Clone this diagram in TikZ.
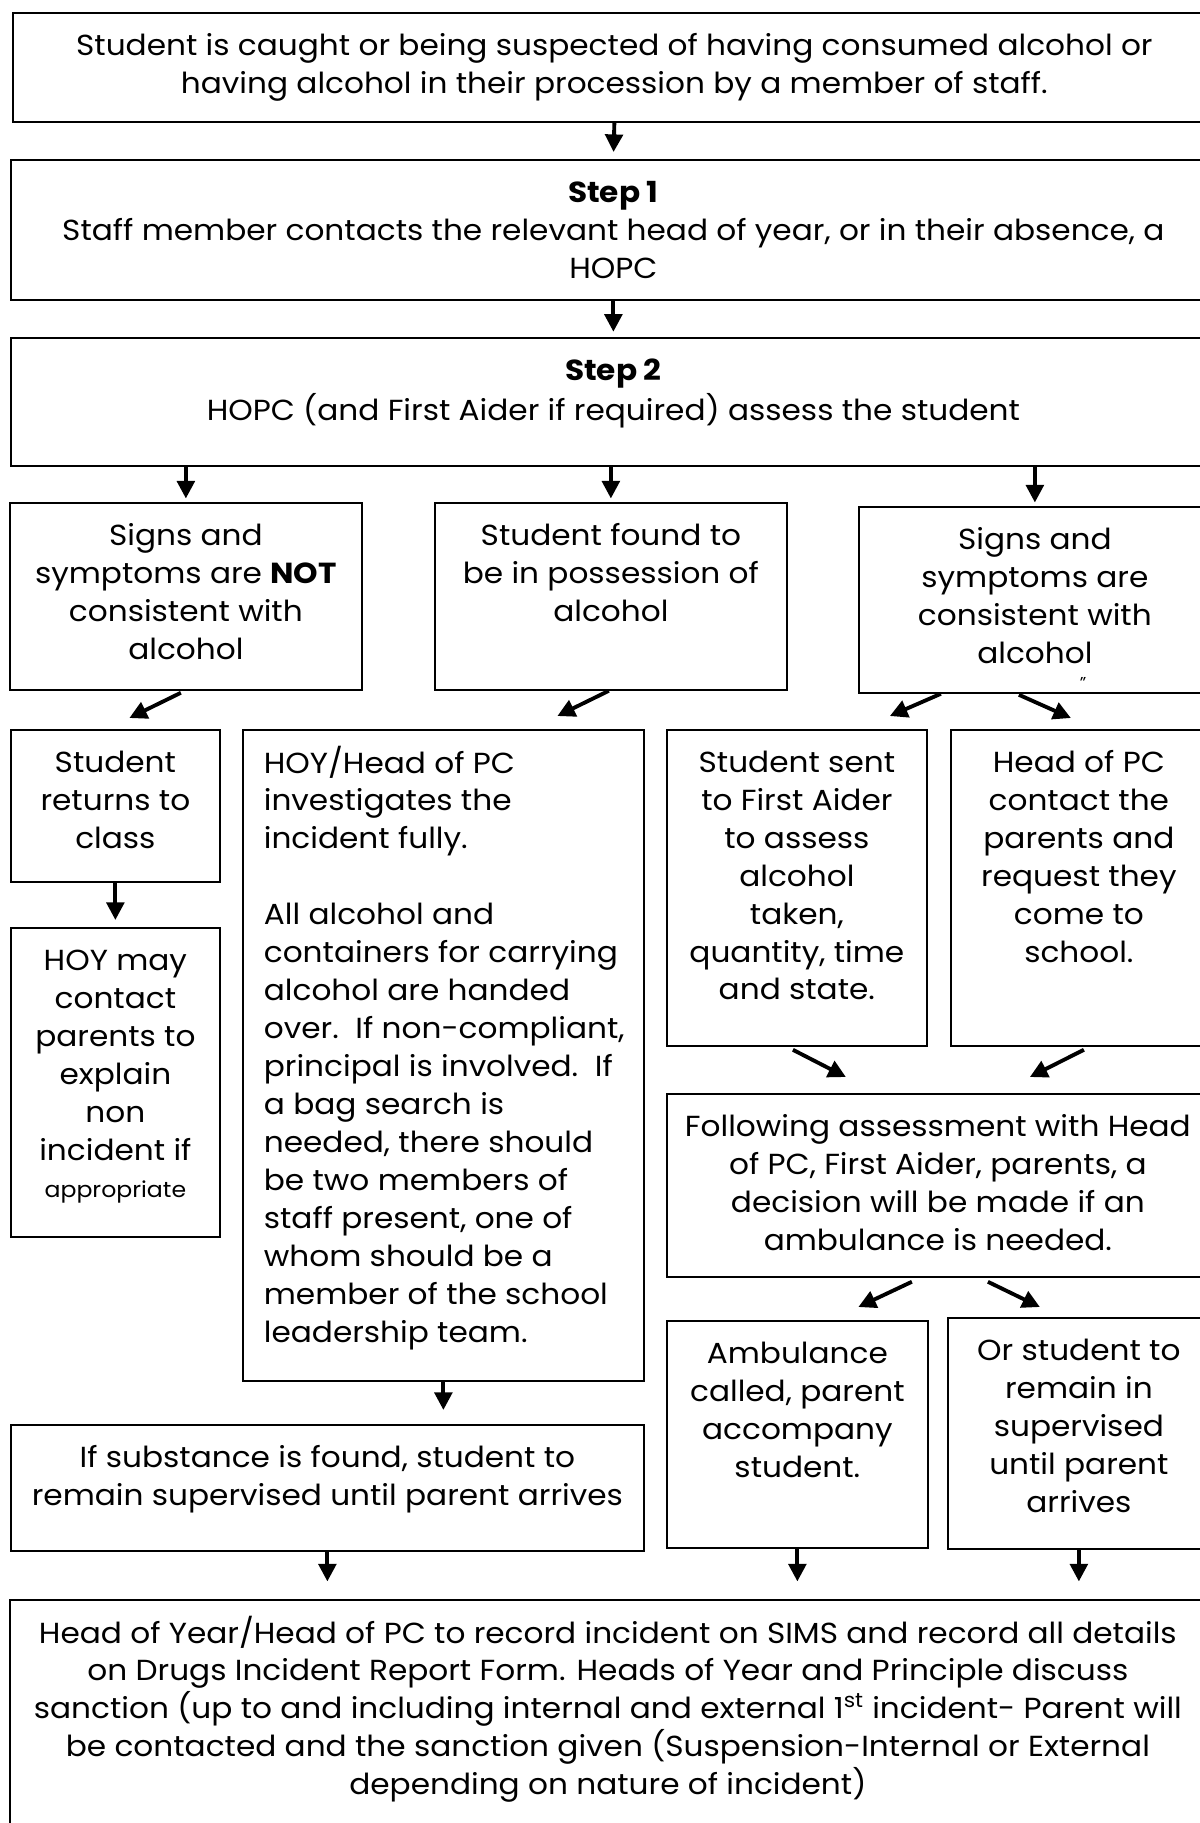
\documentclass[tikz,border=0pt]{standalone}
\usepackage{fontspec}
\setmainfont{Poppins}[FakeStretch=1.075]
\usetikzlibrary{calc, positioning}
\usetikzlibrary{arrows.meta}
\newlength\px
\setlength\px{0.02cm}
\newcommand{\stagetext}[4][\centering]{%
    \parbox[t][#3\px][t]{#2\px}{#1\vspace{9pt}\strut #4}}
\tikzset{
    stage/.style = {
        draw, line width=1pt, anchor=north west, inner sep=0pt,
        font=\fontsize{16.5}{21.6}\selectfont
    },
    flow/.style = {
        -{Triangle[width=10pt,length=10pt]}, line width=2.2pt
    },
}

\begin{document}
\begin{tikzpicture}[x=0.02cm, y=-0.02cm]
        \useasboundingbox (0,0) rectangle (1200,1823);

        % Place the blocks
        \node[stage] (caught) at (12,12) {\stagetext{1203}{109}{Student is caught or being suspected of having consumed alcohol or\\having alcohol in their procession by a member of staff.}};
        \node[stage] (stepone) at (10,159) {\stagetext{1205}{140}{\textbf{Step 1}\\Staff member contacts the relevant head of year, or in their absence, a\\HOPC}};
        \node[stage] (steptwo) at (10,337) {\stagetext{1205}{128}{\textbf{Step 2}\\HOPC (and First Aider if required) assess the student}};

        \node[stage] (notconsistent) at (9,502) {\stagetext{352}{187}{Signs and\\symptoms are \textbf{NOT}\\consistent with\\alcohol}};
        \node[stage] (possession) at (434,502) {\stagetext{352}{187}{Student found to\\be in possession of\\alcohol}};
        \node[stage] (consistent) at (858,506) {\stagetext{352}{186}{Signs and\\symptoms are\\consistent with\\alcohol}};
        \node[font=\small, inner sep=0pt] (stray) at (1083,683) {''};

        \node[stage] (returns) at (10,729) {\stagetext{209}{152}{Student\\returns to\\class}};
        \node[stage] (investigate) at (242,729) {\stagetext[\raggedright\leftskip=21\px]{401}{651}{HOY/Head of PC\\investigates the\\incident fully.\\[\baselineskip]All alcohol and\\containers for carrying\\alcohol are handed\\over.\ \ If non-compliant,\\principal is involved.\ \ If\\a bag search is\\needed, there should\\be two members of\\staff present, one of\\whom should be a\\member of the school\\leadership team.}};
        \node[stage] (firstaider) at (666,729) {\stagetext{260}{316}{Student sent\\to First Aider\\to assess\\alcohol\\taken,\\quantity, time\\and state.}};
        \node[stage] (contactparents) at (950,729) {\stagetext{256}{316}{Head of PC\\contact the\\parents and\\request they\\come to\\school.}};

        \node[stage] (maycontact) at (10,927) {\stagetext{209}{309}{HOY may\\contact\\parents to\\explain\\non\\incident if\\{\fontsize{12.5}{21.6}\selectfont appropriate}}};
        \node[stage] (decision) at (666,1093) {\stagetext{542}{183}{Following assessment with Head\\of PC, First Aider, parents, a\\decision will be made if an\\ambulance is needed.}};
        \node[stage] (ambulance) at (666,1320) {\stagetext{261}{227}{Ambulance\\called, parent\\accompany\\student.}};
        \node[stage] (supervised) at (947,1317) {\stagetext{262}{231}{Or student to\\remain in\\supervised\\until parent\\arrives}};
        \node[stage] (substance) at (10,1424) {\stagetext{633}{126}{If substance is found, student to\\remain supervised until parent arrives}};

        \node[stage] (record) at (9,1599) {\stagetext{1196}{260}{Head of Year/Head of PC to record incident on SIMS and record all details\\on Drugs Incident Report Form. Heads of Year and Principle discuss\\sanction (up to and including internal and external 1\textsuperscript{st} incident- Parent will\\be contacted and the sanction given (Suspension-Internal or External\\depending on nature of incident)}};

        % Draw connections
        \draw[flow, shorten >=4pt] (caught.south) -- (stepone.north);
        \draw[flow, shorten >=3pt] (stepone.south) -- (steptwo.north);
        \foreach \n in {notconsistent, possession, consistent}{
            \draw[flow, shorten >=2pt] (steptwo.south -| \n.north) -- (\n.north);
        }
        \draw[flow] ($(notconsistent.south)+(-5,2)$) -- ($(returns.north)+(14,-11)$);
        \draw[flow] ($(possession.south)+(-2,0)$) -- ($(investigate.north)+(114,-13)$);
        \draw[flow] ($(consistent.south)+(-94,0)$) -- ($(firstaider.north)+(93,-13)$);
        \draw[flow] ($(consistent.south)+(-16,1)$) -- ($(contactparents.north)+(-8,-11)$);
        \draw[flow, shorten >=4pt] (returns.south) -- (maycontact.north);
        \draw[flow, shorten >=8pt] (investigate.south) -- (investigate.south |- substance.north);
        \draw[flow] ($(firstaider.south)+(-4,3)$) -- ($(decision.north)+(-92,-16)$);
        \draw[flow] ($(contactparents.south)+(5,3)$) -- ($(decision.north)+(92,-16)$);
        \draw[flow] ($(decision.south)+(-26,4)$) -- ($(ambulance.north)+(61,-13)$);
        \draw[flow] ($(decision.south)+(50,4)$) -- ($(supervised.north)+(-39,-10)$);
        \foreach \n in {substance, ambulance, supervised}{
            \draw[flow, shorten >=10pt] (\n.south) -- (\n.south |- record.north);
        }
\end{tikzpicture}
\end{document}
